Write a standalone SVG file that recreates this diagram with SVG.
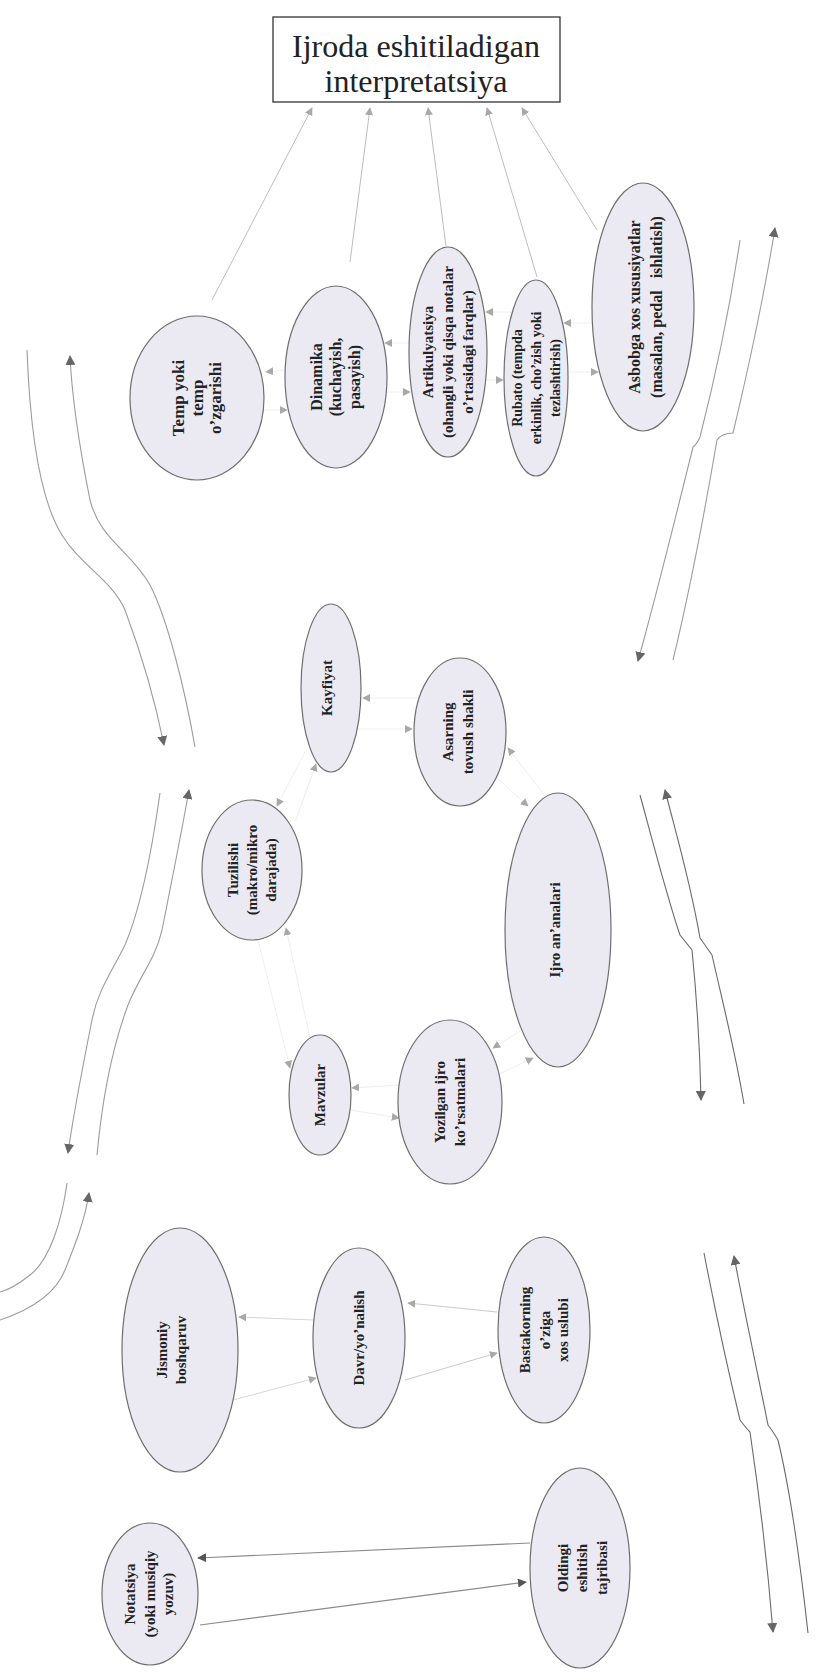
<svg xmlns="http://www.w3.org/2000/svg" width="830" height="1673" viewBox="0 0 830 1673">
<style>
.bg{fill:#ffffff}
.ell{fill:#ebeaf2;stroke:#6e6e6e;stroke-width:1.2}
.t{font-family:"Liberation Serif","Times New Roman",serif;font-weight:bold;font-size:15px;fill:#222;text-anchor:middle}
.title{font-family:"Liberation Serif","Times New Roman",serif;font-size:32px;fill:#222;text-anchor:middle}
.up{fill:none;stroke:#bdbdbd;stroke-width:1;marker-end:url(#ahl)}
.sm{fill:none;stroke:#eeeeee;stroke-width:1;marker-end:url(#ahl)}
.lw{fill:none;stroke:#d6d6d6;stroke-width:1;marker-end:url(#ahl)}
.cv{fill:none;stroke:#9c9c9c;stroke-width:1.1}
.cvd{fill:none;stroke:#6a6a6a;stroke-width:1.1}
.dk{fill:none;stroke:#8a8a8a;stroke-width:1.1;marker-end:url(#ahd)}
</style>
<defs>
<marker id="ahl" viewBox="0 0 10 10" refX="9" refY="5" markerWidth="8" markerHeight="8" markerUnits="userSpaceOnUse" orient="auto"><path d="M0,0 L10,5 L0,10 z" fill="#a8a8a8"/></marker>
<marker id="ahd" viewBox="0 0 10 10" refX="9" refY="5" markerWidth="9" markerHeight="9" markerUnits="userSpaceOnUse" orient="auto"><path d="M0,0 L10,5 L0,10 z" fill="#555"/></marker>
<marker id="ahm" viewBox="0 0 10 10" refX="9" refY="5" markerWidth="10" markerHeight="10" markerUnits="userSpaceOnUse" orient="auto"><path d="M0,0 L10,5 L0,10 z" fill="#666"/></marker>
</defs>
<rect class="bg" x="0" y="0" width="830" height="1673"/>

<g id="connectors">
<!-- to title -->
<path class="up" d="M212,300 L312,108"/>
<path class="up" d="M350,262 L370,108"/>
<path class="up" d="M446,246 L428,108"/>
<path class="up" d="M537,277 L487,108"/>
<path class="up" d="M597,230 L522,108"/>
<!-- top row pairs -->
<path class="sm" d="M285,370 L266,372"/>
<path class="sm" d="M262,410 L287,410"/>
<path class="sm" d="M409,343 L385,343"/>
<path class="sm" d="M386,392 L410,392"/>
<path class="sm" d="M512,312 L486,312"/>
<path class="sm" d="M486,380 L503,380"/>
<path class="sm" d="M592,323 L564,323"/>
<path class="sm" d="M568,372 L598,372"/>
<!-- middle pairs -->
<path class="sm" d="M419,698 L363,698"/>
<path class="sm" d="M357,729 L412,729"/>
<path class="sm" d="M545,796 L508,748"/>
<path class="sm" d="M497,778 L528,806"/>
<path class="sm" d="M305,752 L277,806"/>
<path class="sm" d="M295,822 L316,764"/>
<path class="sm" d="M258,940 L290,1068"/>
<path class="sm" d="M310,1038 L286,928"/>
<path class="sm" d="M400,1085 L352,1088"/>
<path class="sm" d="M350,1110 L399,1118"/>
<path class="sm" d="M522,1030 L493,1048"/>
<path class="sm" d="M497,1075 L533,1058"/>
<!-- lower pairs -->
<path class="lw" d="M313,1320 L239,1317"/>
<path class="lw" d="M233,1400 L316,1378"/>
<path class="lw" d="M497,1312 L408,1303" style="stroke:#cacaca"/>
<path class="lw" d="M405,1380 L497,1353" style="stroke:#cacaca"/>
<path class="dk" d="M530,1543 L198,1558"/>
<path class="dk" d="M200,1625 L526,1582"/>
<!-- big bracket curves, left -->
<path class="cv" marker-end="url(#ahm)" d="M27,350 C30,430 40,500 62,535 C80,565 112,580 125,610 C140,650 155,700 164,745"/>
<path class="cv" marker-end="url(#ahm)" d="M195,747 C185,690 168,620 150,585 C130,550 100,540 90,500 C80,450 72,400 70,356"/>
<path class="cv" marker-end="url(#ahm)" d="M97,1155 C103,1090 115,1040 128,1005 C140,975 155,960 162,930 C172,880 182,830 189,790"/>
<path class="cv" marker-end="url(#ahm)" d="M160,793 C152,850 140,910 125,945 C110,975 98,990 92,1020 C82,1070 74,1110 68,1153"/>
<path class="cv" marker-end="url(#ahm)" d="M0,1320 C30,1310 55,1295 65,1270 C75,1245 85,1220 89,1193"/>
<path class="cv" d="M67,1183 C62,1220 50,1260 30,1275 C20,1283 8,1290 0,1292"/>
<!-- right -->
<path class="cv" marker-end="url(#ahm)" d="M673,660 C690,590 705,510 717,440 Q722,433 733,433 C748,370 765,290 775,228"/>
<path class="cv" marker-end="url(#ahm)" d="M740,240 C728,320 712,390 700,437 Q697,444 693,447 C675,520 655,600 638,661"/>
<path class="cvd" marker-end="url(#ahm)" d="M640,795 C655,850 668,900 680,935 Q688,945 692,950 C697,1000 700,1050 701,1100"/>
<path class="cvd" marker-end="url(#ahm)" d="M744,1104 C735,1050 722,1000 712,955 Q705,945 700,938 C690,880 675,830 665,790"/>
<path class="cvd" marker-end="url(#ahm)" d="M808,1633 C800,1560 790,1490 778,1440 Q772,1430 768,1425 C755,1360 742,1300 734,1256"/>
<path class="cvd" marker-end="url(#ahm)" d="M704,1253 C715,1310 728,1370 740,1420 Q746,1428 750,1432 C760,1500 768,1570 773,1632"/>
</g>

<g id="title">
<rect x="273" y="17" width="287" height="85" fill="#fff" stroke="#333" stroke-width="1.3"/>
<text class="title" x="416" y="57">Ijroda eshitiladigan</text>
<text class="title" x="416" y="92">interpretatsiya</text>
</g>

<g id="n-temp">
<ellipse class="ell" cx="197" cy="398" rx="67" ry="82"/>
<text class="t" style="font-size:17px" transform="rotate(-90 197 398)"><tspan x="197" y="385">Temp yoki</tspan><tspan x="197" y="404">temp</tspan><tspan x="197" y="422">o’zgarishi</tspan></text>
</g>
<g id="n-dinamika">
<ellipse class="ell" cx="336" cy="377" rx="51" ry="91"/>
<text class="t" style="font-size:16px" transform="rotate(-90 336 377)"><tspan x="336" y="363">Dinamika</tspan><tspan x="336" y="382">(kuchayish,</tspan><tspan x="336" y="401">pasayish)</tspan></text>
</g>
<g id="n-artik">
<ellipse class="ell" cx="448" cy="352" rx="39" ry="105"/>
<text class="t" transform="rotate(-90 448 352)"><tspan x="448" y="337">Artikulyatsiya</tspan><tspan x="448" y="357">(ohangli yoki qisqa notalar</tspan><tspan x="448" y="377">o’rtasidagi farqlar)</tspan></text>
</g>
<g id="n-rubato">
<ellipse class="ell" cx="536" cy="378" rx="32" ry="98"/>
<text class="t" style="font-size:14px" transform="rotate(-90 536 378)"><tspan x="536" y="364">Rubato (tempda</tspan><tspan x="536" y="383">erkinlik, cho’zish yoki</tspan><tspan x="536" y="402">tezlashtirish)</tspan></text>
</g>
<g id="n-asbob">
<ellipse class="ell" cx="643" cy="307" rx="51" ry="124"/>
<text class="t" style="font-size:16px" xml:space="preserve" transform="rotate(-90 643 307)"><tspan x="643" y="304">Asbobga xos xususiyatlar</tspan><tspan x="643" y="326">(masalan, pedal   ishlatish)</tspan></text>
</g>
<g id="n-kayfiyat">
<ellipse class="ell" cx="331" cy="688" rx="30" ry="84"/>
<text class="t" transform="rotate(-90 331 688)"><tspan x="331" y="689">Kayfiyat</tspan></text>
</g>
<g id="n-asarning">
<ellipse class="ell" cx="460" cy="732" rx="46" ry="74"/>
<text class="t" transform="rotate(-90 460 732)"><tspan x="460" y="725">Asarning</tspan><tspan x="460" y="745">tovush shakli</tspan></text>
</g>
<g id="n-tuzilishi">
<ellipse class="ell" cx="252" cy="870" rx="50" ry="70"/>
<text class="t" transform="rotate(-90 252 870)"><tspan x="252" y="856">Tuzilishi</tspan><tspan x="252" y="875">(makro/mikro</tspan><tspan x="252" y="894">darajada)</tspan></text>
</g>
<g id="n-ijro">
<ellipse class="ell" cx="558" cy="930" rx="53" ry="137"/>
<text class="t" transform="rotate(-90 558 930)"><tspan x="558" y="932">Ijro an’analari</tspan></text>
</g>
<g id="n-mavzular">
<ellipse class="ell" cx="320" cy="1095" rx="31" ry="60"/>
<text class="t" transform="rotate(-90 320 1095)"><tspan x="320" y="1100">Mavzular</tspan></text>
</g>
<g id="n-yozilgan">
<ellipse class="ell" cx="450" cy="1102" rx="52" ry="82"/>
<text class="t" transform="rotate(-90 450 1102)"><tspan x="450" y="1097">Yozilgan ijro</tspan><tspan x="450" y="1117">ko’rsatmalari</tspan></text>
</g>
<g id="n-jismoniy">
<ellipse class="ell" cx="180" cy="1350" rx="58" ry="122"/>
<text class="t" transform="rotate(-90 180 1350)"><tspan x="180" y="1337">Jismoniy</tspan><tspan x="180" y="1356">boshqaruv</tspan></text>
</g>
<g id="n-davr">
<ellipse class="ell" cx="359" cy="1338" rx="46" ry="90"/>
<text class="t" transform="rotate(-90 359 1338)"><tspan x="359" y="1343">Davr/yo’nalish</tspan></text>
</g>
<g id="n-bastakor">
<ellipse class="ell" cx="544" cy="1330" rx="46" ry="93"/>
<text class="t" transform="rotate(-90 544 1330)"><tspan x="544" y="1316">Bastakorning</tspan><tspan x="544" y="1336">o’ziga</tspan><tspan x="544" y="1354">xos uslubi</tspan></text>
</g>
<g id="n-notatsiya">
<ellipse class="ell" cx="150" cy="1594" rx="48" ry="71"/>
<text class="t" transform="rotate(-90 150 1594)"><tspan x="150" y="1579">Notatsiya</tspan><tspan x="150" y="1599">(yoki musiqiy</tspan><tspan x="150" y="1617">yozuv)</tspan></text>
</g>
<g id="n-oldingi">
<ellipse class="ell" cx="580" cy="1568" rx="50" ry="100"/>
<text class="t" transform="rotate(-90 580 1568)"><tspan x="580" y="1556">Oldingi</tspan><tspan x="580" y="1575">eshitish</tspan><tspan x="580" y="1595">tajribasi</tspan></text>
</g>
</svg>
